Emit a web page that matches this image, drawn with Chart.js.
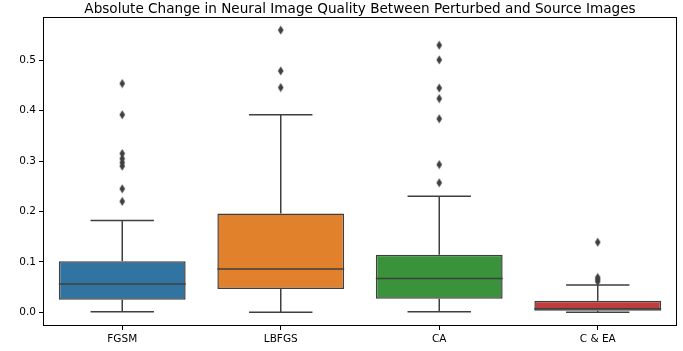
<!DOCTYPE html>
<html>
<head>
<meta charset="utf-8">
<script src="https://cdn.jsdelivr.net/npm/chart.js@4"></script>
<style>
  html, body { margin: 0; padding: 0; background: #fff; }
  #wrap { position: relative; width: 683px; height: 351px; }
  #title {
    position: absolute; left: 43px; width: 634px; top: 0; height: 16px;
    line-height: 16px; text-align: center; white-space: nowrap;
    font-family: 'DejaVu Sans'; font-size: 13.6px; color: #000;
  }
</style>
</head>
<body>
<div id="wrap">
  <canvas id="c" width="683" height="351"></canvas>
  <div id="title">Absolute Change in Neural Image Quality Between Perturbed and Source Images</div>
</div>
<script>
// categories and box statistics
const methods = ['FGSM', 'LBFGS', 'CA', 'C & EA'];
const q1 = [0.025, 0.046, 0.027, 0.003];
const medians = [0.056, 0.086, 0.067, 0.007];
const q3 = [0.101, 0.196, 0.114, 0.023];
const whiskerLow = [0.001, 0.0, 0.001, 0.0];
const whiskerHigh = [0.182, 0.392, 0.230, 0.054];
const outliers = [
  [0.454, 0.392, 0.315, 0.305, 0.297, 0.290, 0.245, 0.220],
  [0.560, 0.479, 0.446],
  [0.530, 0.501, 0.445, 0.424, 0.384, 0.293, 0.257],
  [0.139, 0.069, 0.065, 0.061]
];
const boxColors = ['#3274a1', '#e1812c', '#3a923a', '#c03d3e'];
const yTicks = [0.0, 0.1, 0.2, 0.3, 0.4, 0.5];
const edge = '#3f3f3f';

// thin diamond marker like matplotlib 'd'
const diamond = document.createElement('canvas');
diamond.width = 7; diamond.height = 10;
(function () {
  const g = diamond.getContext('2d');
  g.fillStyle = edge;
  g.beginPath();
  g.moveTo(3.5, 0.5); g.lineTo(6.3, 5); g.lineTo(3.5, 9.5); g.lineTo(0.7, 5);
  g.closePath(); g.fill();
})();

const outlierPoints = [];
outliers.forEach((vals, i) => vals.forEach(v => outlierPoints.push({ x: methods[i], y: v })));

// whiskers, caps, medians and the frame
const boxExtras = {
  id: 'boxExtras',
  afterDatasetsDraw(chart) {
    const ctx = chart.ctx;
    const xs = chart.scales.x, ys = chart.scales.y;
    const bars = chart.getDatasetMeta(0).data;
    ctx.save();
    ctx.strokeStyle = edge;
    ctx.lineWidth = 1.5;
    methods.forEach((m, i) => {
      const x = xs.getPixelForValue(i);
      const half = bars[i].width / 2;
      const yq1 = ys.getPixelForValue(q1[i]);
      const yq3 = ys.getPixelForValue(q3[i]);
      const ylo = ys.getPixelForValue(whiskerLow[i]);
      const yhi = ys.getPixelForValue(whiskerHigh[i]);
      const ymed = ys.getPixelForValue(medians[i]);
      ctx.beginPath();
      ctx.moveTo(x, yq3); ctx.lineTo(x, yhi);
      ctx.moveTo(x, yq1); ctx.lineTo(x, ylo);
      ctx.moveTo(x - half / 2, yhi); ctx.lineTo(x + half / 2, yhi);
      ctx.moveTo(x - half / 2, ylo); ctx.lineTo(x + half / 2, ylo);
      ctx.moveTo(x - half, ymed); ctx.lineTo(x + half, ymed);
      ctx.stroke();
    });
    const a = chart.chartArea;
    ctx.strokeStyle = '#000';
    ctx.lineWidth = 1;
    ctx.strokeRect(Math.round(a.left) + 0.5, Math.round(a.top) + 0.5,
      Math.round(a.right - a.left) - 1, Math.round(a.bottom - a.top) - 1);
    ctx.restore();
  }
};

new Chart(document.getElementById('c'), {
  type: 'bar',
  data: {
    labels: methods,
    datasets: [{
      data: methods.map((m, i) => [q1[i], q3[i]]),
      backgroundColor: boxColors,
      borderColor: edge,
      borderWidth: 1.5,
      borderSkipped: false,
      barPercentage: 0.8,
      categoryPercentage: 1.0
    }, {
      type: 'line',
      data: outlierPoints,
      showLine: false,
      pointStyle: diamond,
      pointRadius: 4,
      pointHoverRadius: 4
    }]
  },
  plugins: [boxExtras],
  options: {
    responsive: false,
    animation: false,
    events: [],
    layout: { padding: { left: 0, right: 6, top: 17, bottom: 0 } },
    plugins: {
      legend: { display: false },
      tooltip: { enabled: false },
      title: { display: false }
    },
    scales: {
      x: {
        grid: { display: true, drawOnChartArea: false, offset: false, color: '#000', tickLength: 4, tickWidth: 1 },
        border: { display: false },
        ticks: { color: '#000', font: { family: 'DejaVu Sans', size: 10.5 }, padding: 3 },
        afterFit(s) { s.height = 25; }
      },
      y: {
        min: -0.0273,
        max: 0.586,
        grid: { display: true, drawOnChartArea: false, color: '#000', tickLength: 4, tickWidth: 1 },
        border: { display: false },
        ticks: {
          color: '#000', font: { family: 'DejaVu Sans', size: 10.5 }, padding: 3,
          callback: v => v.toFixed(1)
        },
        afterBuildTicks(s) { s.ticks = yTicks.map(v => ({ value: v })); },
        afterFit(s) { s.width = 43; }
      }
    }
  }
});
</script>
</body>
</html>
